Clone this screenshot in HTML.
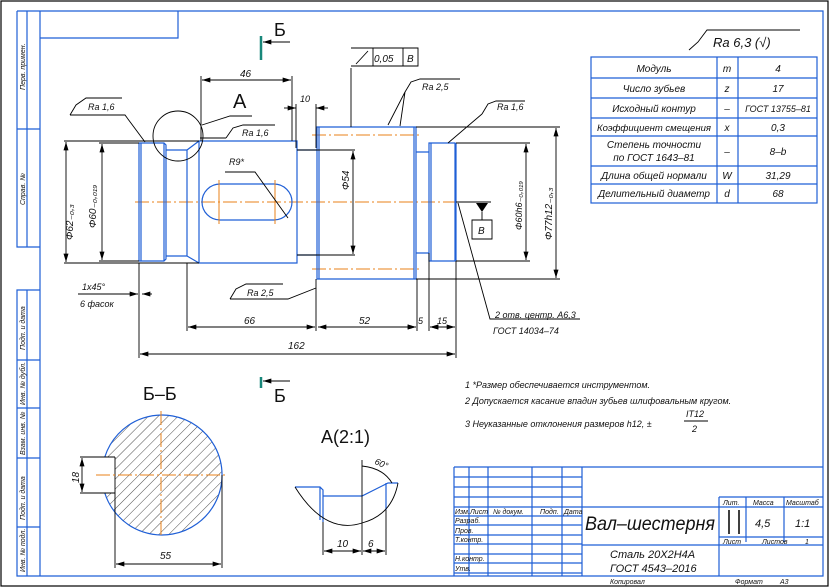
<!DOCTYPE html>
<html><head><meta charset="utf-8"><style>
html,body{margin:0;padding:0;background:#fff;}
svg{display:block;}
text{font-family:"Liberation Sans",sans-serif;font-style:italic;fill:#111;}
.b{stroke:#1f5fd6;fill:none;stroke-width:1.2;}
.k{stroke:#000;fill:none;stroke-width:0.9;}
.o{stroke:#e8821a;fill:none;stroke-width:1;stroke-dasharray:14,3,2,3;}
.bf{stroke:#1f5fd6;fill:none;stroke-width:1.2;}
</style></head><body>
<svg width="830" height="588" viewBox="0 0 830 588" xmlns="http://www.w3.org/2000/svg">
<defs>
<marker id="a" viewBox="0 0 10 6" refX="10" refY="3" markerWidth="9" markerHeight="5" orient="auto-start-reverse" markerUnits="userSpaceOnUse"><path d="M0,0L10,3L0,6z" fill="#000"/></marker>
<pattern id="h" width="7" height="7" patternUnits="userSpaceOnUse" patternTransform="rotate(45)"><line x1="0" y1="0" x2="0" y2="7" stroke="#000" stroke-width="0.7"/></pattern>
<clipPath id="cc"><circle cx="162" cy="475" r="60"/></clipPath>
</defs>
<rect x="1" y="1" width="827" height="585" fill="none" stroke="#000" stroke-width="1.2"/>
<!-- frame -->
<path class="bf" d="M40,11H823V576H17V290H40M17,290V576M27,290V576M17,360H40M17,408H40M17,458H40M17,527H40"/>
<path class="bf" d="M40,11V576M17,11H40M17,11V247H40M27,11V247M17,129H40M40,38H178V11"/>
<g font-size="7" fill="#1f5fd6">
<text transform="translate(25,90) rotate(-90)">Перв. примен.</text>
<text transform="translate(25,205) rotate(-90)">Справ. №</text>
<text transform="translate(25,350) rotate(-90)">Подп. и дата</text>
<text transform="translate(25,405) rotate(-90)">Инв. № дубл.</text>
<text transform="translate(25,455) rotate(-90)">Взам. инв. №</text>
<text transform="translate(25,520) rotate(-90)">Подп. и дата</text>
<text transform="translate(25,572) rotate(-90)">Инв. № подл.</text>
</g>
<!-- centerlines -->
<line class="o" x1="135" y1="202" x2="470" y2="202"/>
<line class="o" x1="312" y1="135" x2="422" y2="135"/>
<line class="o" x1="312" y1="269" x2="422" y2="269"/>
<!-- shaft -->
<path class="b" d="M139,143H164L166,145V259L164,261H139Z M141,143V261 M164,143V261"/>
<path class="b" d="M166,150H187V256H166 M187,150L199,141 M187,256L199,263 M187,150V256"/>
<path class="b" d="M199,141H297V263H199Z"/>
<path class="b" d="M297,150H317 M297,255H317"/>
<path class="b" d="M317,127H416V279H317Z M319,127V279 M414,127V279"/>
<path class="b" d="M416,152H429 M416,253H429"/>
<path class="b" d="M429,143H455V261H429Z M431,143V261 M456,143V261"/>
<path class="b" d="M220,184H274A18,18 0 0 1 274,220H220A18,18 0 0 1 220,184Z"/>
<line class="o" x1="219" y1="180" x2="219" y2="224" style="stroke-dasharray:none"/>
<line class="o" x1="275" y1="180" x2="275" y2="224" style="stroke-dasharray:none"/>
<circle class="k" cx="178" cy="136" r="25"/>
<!-- dims -->
<g class="k">
<path d="M64,141H199 M64,263H199 M99,143H139 M99,261H139"/>
<line x1="66" y1="142" x2="66" y2="262" marker-start="url(#a)" marker-end="url(#a)"/>
<line x1="102" y1="144" x2="102" y2="260" marker-start="url(#a)" marker-end="url(#a)"/>
<path d="M201,141V76 M292,141V76 M296,148V104"/>
<line x1="202" y1="80" x2="291" y2="80" marker-start="url(#a)" marker-end="url(#a)"/>
<line x1="284" y1="108" x2="296" y2="108" marker-end="url(#a)"/>
<line x1="328" y1="108" x2="316" y2="108" marker-end="url(#a)"/>
<path d="M316,148V104 M297,150H355 M297,255H355"/>
<line x1="353" y1="151" x2="353" y2="254" marker-start="url(#a)" marker-end="url(#a)"/>
<path d="M456,143H530 M456,261H530 M416,127H560 M416,279H560"/>
<line x1="526" y1="144" x2="526" y2="260" marker-start="url(#a)" marker-end="url(#a)"/>
<line x1="556" y1="128" x2="556" y2="278" marker-start="url(#a)" marker-end="url(#a)"/>
<path d="M187,263V331 M316,279V331 M417,279V331 M429,253V331 M456,261V358 M139,263V358"/>
<line x1="188" y1="327" x2="315" y2="327" marker-start="url(#a)" marker-end="url(#a)"/>
<line x1="318" y1="327" x2="416" y2="327" marker-start="url(#a)" marker-end="url(#a)"/>
<line x1="405" y1="327" x2="416" y2="327" marker-end="url(#a)"/>
<line x1="440" y1="327" x2="430" y2="327" marker-end="url(#a)"/>
<line x1="430" y1="327" x2="455" y2="327" marker-start="url(#a)" marker-end="url(#a)"/>
<line x1="140" y1="354" x2="455" y2="354" marker-start="url(#a)" marker-end="url(#a)"/>
<line x1="78" y1="294" x2="138" y2="294" marker-end="url(#a)"/>
<line x1="152" y1="294" x2="142" y2="294" marker-end="url(#a)"/>
<!-- leaders -->
<path d="M70,115H125L145,142"/><path d="M70,115L76,105L86,98H122"/>
<path d="M226,138L233,128L243,125H275"/><path d="M226,138H200"/>
<path d="M202,125L230,116H252"/>
<path d="M225,172H255L288,218"/>
<path d="M230,299L236,289L246,284H283 M230,299H288L316,288"/>
<path d="M351,68V127 M351,48H418V66H351"/>
<path d="M356,64L368,51 M373,48V66 M403,48V66"/>
<path d="M405,92L411,82L420,79H460 M405,92L388,125 M405,92L400,126"/>
<path d="M482,114L488,104L496,101H525 M482,114L448,143"/>
<path d="M456,202H491 M472,220H492V239H472Z M482,212V220"/>
<path d="M458,203L490,319H580"/>
<path d="M689,50L698,42L707,30H800"/>
</g>
<path d="M476,203L482,212L488,203Z" fill="#000"/>
<g font-size="10">
<text x="73" y="240" transform="rotate(-90 73 240)">Φ62₋₀,₃</text>
<text x="96" y="228" transform="rotate(-90 96 228)">Φ60₋₀,₀₁₉</text>
<text x="240" y="77">46</text>
<text x="300" y="102" font-size="9">10</text>
<text x="349" y="190" transform="rotate(-90 349 190)">Φ54</text>
<text x="522" y="230" transform="rotate(-90 522 230)" font-size="9">Φ60h6₋₀,₀₁₉</text>
<text x="552" y="240" transform="rotate(-90 552 240)">Φ77h12₋₀,₃</text>
<text x="244" y="324">66</text><text x="359" y="324">52</text>
<text x="418" y="324" font-size="9">5</text><text x="437" y="324" font-size="9">15</text>
<text x="288" y="349">162</text>
<text x="82" y="290" font-size="9">1x45°</text>
<text x="80" y="307" font-size="9">6 фасок</text>
<text x="88" y="110" font-size="9">Ra 1,6</text>
<text x="242" y="136" font-size="9">Ra 1,6</text>
<text x="229" y="165" font-size="9">R9*</text>
<text x="247" y="296" font-size="9">Ra 2,5</text>
<text x="374" y="62" font-size="10">0,05</text>
<text x="407" y="62" font-size="10">B</text>
<text x="422" y="90" font-size="9">Ra 2,5</text>
<text x="497" y="110" font-size="9">Ra 1,6</text>
<text x="478" y="234" font-size="10">B</text>
<text x="495" y="318" font-size="9">2 отв. центр. А6,3</text>
<text x="493" y="334" font-size="9">ГОСТ 14034–74</text>
<text x="713" y="47" font-size="13">Ra 6,3 (√)</text>
</g>
<text x="233" y="108" font-size="20" style="font-style:normal">А</text>
<!-- section marks -->
<path d="M261,36V60 M261,377V388" stroke="#18877a" stroke-width="2.5"/>
<line class="k" x1="290" y1="42" x2="263" y2="42" marker-end="url(#a)"/>
<line class="k" x1="290" y1="381" x2="263" y2="381" marker-end="url(#a)"/>
<text x="274" y="36" font-size="18" style="font-style:normal">Б</text>
<text x="274" y="402" font-size="18" style="font-style:normal">Б</text>
<!-- section Б-Б -->
<text x="143" y="400" font-size="18" style="font-style:normal">Б–Б</text>
<rect x="100" y="412" width="130" height="130" fill="url(#h)" clip-path="url(#cc)"/>
<rect x="100" y="457.5" width="15" height="35" fill="#fff"/>
<path class="b" d="M104.8,457 A60,60 0 1 1 104.8,493" stroke-width="1"/>
<path class="k" d="M115,457V493 M80,457H115 M80,493H115"/>
<line class="o" x1="161" y1="411" x2="161" y2="538"/>
<line class="o" x1="96" y1="475" x2="227" y2="475"/>
<line class="k" x1="82" y1="458" x2="82" y2="492" marker-start="url(#a)" marker-end="url(#a)"/>
<path class="k" d="M222,475V568 M115,493V568"/>
<line class="k" x1="116" y1="564" x2="221" y2="564" marker-start="url(#a)" marker-end="url(#a)"/>
<text x="70" y="482" font-size="10" transform="rotate(-90 75 478)">18</text>
<text x="160" y="559" font-size="10">55</text>
<!-- detail A -->
<text x="321" y="443" font-size="18" style="font-style:normal">А(2:1)</text>
<path class="b" d="M295,487H320L323,490V522 M320,487V520 M323,496H362L388,483H398 M386,483V510" stroke-width="1"/>
<path class="k" d="M295,487 Q325,535 362,523 Q392,515 398,483 M362,460V555 M323,522V555 M386,510V555"/>
<path class="k" d="M362,466 Q383,468 392,483"/>
<line class="k" x1="324" y1="551" x2="361" y2="551" marker-start="url(#a)" marker-end="url(#a)"/>
<line class="k" x1="363" y1="551" x2="385" y2="551" marker-start="url(#a)" marker-end="url(#a)"/>
<text x="337" y="547" font-size="10">10</text><text x="368" y="547" font-size="10">6</text>
<text x="375" y="465" font-size="9" transform="rotate(25 378 462)">60°</text>
<!-- notes -->
<g font-size="9">
<text x="465" y="388">1  *Размер обеспечивается инструментом.</text>
<text x="465" y="404">2  Допускается касание впадин зубьев шлифовальным кругом.</text>
<text x="465" y="427">3  Неуказанные отклонения размеров h12, ±</text>
<text x="686" y="417">IT12</text><text x="692" y="432">2</text>
</g>
<line class="k" x1="684" y1="421" x2="708" y2="421"/>
<!-- table -->
<g class="bf">
<rect x="591" y="57" width="226" height="146"/>
<path d="M717,57V203 M738,57V203 M591,78H817 M591,98H817 M591,118H817 M591,136H817 M591,166H817 M591,184H817"/>
</g>
<g font-size="10" text-anchor="middle">
<text x="654" y="72">Модуль</text><text x="727" y="72">m</text><text x="778" y="72">4</text>
<text x="654" y="92">Число зубьев</text><text x="727" y="92">z</text><text x="778" y="92">17</text>
<text x="654" y="112">Исходный контур</text><text x="727" y="112">–</text><text x="778" y="112" font-size="9">ГОСТ 13755–81</text>
<text x="654" y="131" font-size="9.5">Коэффициент смещения</text><text x="727" y="131">x</text><text x="778" y="131">0,3</text>
<text x="654" y="148">Степень точности</text><text x="654" y="161">по ГОСТ 1643–81</text><text x="727" y="155">–</text><text x="778" y="155">8–b</text>
<text x="654" y="179">Длина общей нормали</text><text x="727" y="179">W</text><text x="778" y="179">31,29</text>
<text x="654" y="197">Делительный диаметр</text><text x="727" y="197">d</text><text x="778" y="197">68</text>
</g>
<!-- title block -->
<g class="bf">
<path d="M454,467H823 M454,467V576 M469,467V576 M488,467V576 M532,467V576 M562,467V576 M582,467V576"/>
<path d="M454,477H582 M454,487H582 M454,497H582 M454,507H823 M454,516H582 M454,525H582 M454,535H582 M454,544H582 M454,554H582 M454,563H582 M454,573H582"/>
<path d="M719,497V576 M719,497H823 M746,497V542 M784,497V542 M582,545H823 M719,537H823"/>
</g>
<path d="M729,510V534 M739,510V534" stroke="#000" stroke-width="1.5"/>
<g font-size="7">
<text x="455" y="514">Изм.</text><text x="470" y="514">Лист</text><text x="493" y="514">№ докум.</text><text x="540" y="514">Подп.</text><text x="564" y="514">Дата</text>
<text x="455" y="523">Разраб.</text><text x="455" y="533">Пров.</text><text x="455" y="542">Т.контр.</text><text x="455" y="561">Н.контр.</text><text x="455" y="571">Утв.</text>
<text x="723" y="505">Лит.</text><text x="753" y="505">Масса</text><text x="786" y="505">Масштаб</text>
<text x="723" y="544">Лист</text><text x="762" y="544">Листов</text><text x="805" y="544">1</text>
<text x="610" y="584">Копировал</text><text x="735" y="584">Формат</text><text x="780" y="584">А3</text>
</g>
<text x="755" y="527" font-size="11">4,5</text><text x="795" y="527" font-size="11">1:1</text>
<text x="585" y="530" font-size="19" textLength="130" lengthAdjust="spacingAndGlyphs">Вал–шестерня</text>
<text x="610" y="558" font-size="11">Сталь 20Х2Н4А</text>
<text x="610" y="572" font-size="11">ГОСТ 4543–2016</text>
</svg>
</body></html>
